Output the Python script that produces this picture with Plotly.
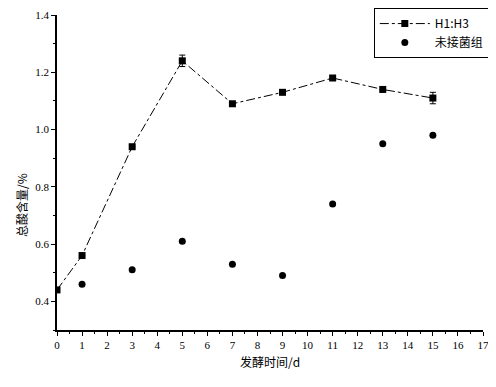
import plotly.graph_objects as go

days = [0, 1, 3, 5, 7, 9, 11, 13, 15]
h_vals = [0.44, 0.56, 0.94, 1.24, 1.09, 1.13, 1.18, 1.14, 1.11]
h_err = [0.0, 0.0, 0.0, 0.02, 0.0, 0.0, 0.005, 0.0, 0.02]
ctrl_days = [1, 3, 5, 7, 9, 11, 13, 15]
ctrl_vals = [0.46, 0.51, 0.61, 0.53, 0.49, 0.74, 0.95, 0.98]
x_ticks = list(range(0, 18))
y_ticks = [0.4, 0.6, 0.8, 1.0, 1.2, 1.4]
y_labels = ["0.4", "0.6", "0.8", "1.0", "1.2", "1.4"]

font = "Liberation Serif"

fig = go.Figure()
fig.add_trace(go.Scatter(
    x=days, y=h_vals, name="H1:H3", mode="lines+markers",
    line=dict(color="black", width=1, dash="dashdot"),
    marker=dict(symbol="square", size=7, color="black"),
    error_y=dict(type="data", array=h_err, color="black", thickness=1, width=3),
))
fig.add_trace(go.Scatter(
    x=ctrl_days, y=ctrl_vals, name="未接菌组", mode="markers",
    marker=dict(symbol="circle", size=7, color="black"),
))

axis_common = dict(
    showline=True, linecolor="black", linewidth=1.5, ticks="outside",
    ticklen=4, tickcolor="black", showgrid=False, zeroline=False,
    tickfont=dict(family=font, size=11, color="black"),
    automargin=False,
)
fig.update_xaxes(range=[0, 17], tickvals=x_ticks, **axis_common,
                 minor=dict(ticks="outside", ticklen=2, dtick=0.5, tickcolor="black"))
fig.update_yaxes(range=[0.3, 1.4], tickvals=y_ticks, ticktext=y_labels, **axis_common,
                 minor=dict(ticks="outside", ticklen=2, dtick=0.1, tickcolor="black"))

fig.add_annotation(text="发酵时间/d", xref="paper", yref="paper", x=0.5, y=-0.1,
                   xanchor="center", yanchor="middle",
                   showarrow=False, font=dict(family="Noto Sans CJK SC", size=12, color="black"))
fig.add_annotation(text="总酸含量/%", xref="paper", yref="paper", x=-0.082, y=0.397,
                   xanchor="center", yanchor="middle",
                   textangle=-90, showarrow=False,
                   font=dict(family="Noto Sans CJK SC", size=12, color="black"))

fig.update_layout(
    width=488, height=379,
    margin=dict(l=49, r=13, t=7, b=57, autoexpand=False),
    plot_bgcolor="white", paper_bgcolor="white",
    showlegend=True,
    legend=dict(x=1.016, y=1.022, xanchor="right", yanchor="top",
                bordercolor="black", borderwidth=1, bgcolor="white",
                font=dict(family="Noto Sans CJK SC", size=12, color="black"),
                tracegroupgap=0, itemwidth=50),
)
fig.write_html("out.html")
